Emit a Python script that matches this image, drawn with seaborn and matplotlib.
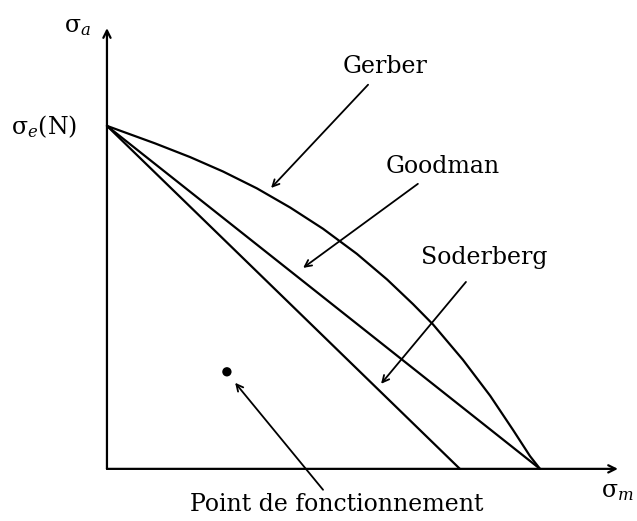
import matplotlib
matplotlib.use("Agg")
import matplotlib.pyplot as plt
import seaborn as sns

# values (sigma_m / sigma_u, sigma_a / sigma_e)
goodman_m = [0.0, 1.0]
goodman_a = [1.0, 0.0]
soderberg_m = [0.0, 0.815]
soderberg_a = [1.0, 0.0]
gerber_m = [0.0, 0.111, 0.192, 0.268, 0.346, 0.423, 0.499, 0.577, 0.647,
            0.707, 0.753, 0.822, 0.885, 0.938, 0.977, 1.0]
gerber_a = [1.0, 0.949, 0.909, 0.867, 0.818, 0.762, 0.700, 0.627, 0.552,
            0.480, 0.421, 0.318, 0.213, 0.113, 0.037, 0.0]
point_m = [0.277]
point_a = [0.283]

sns.set_theme(style="white")
plt.rcParams["font.family"] = ["DejaVu Serif"]
plt.rcParams["mathtext.fontset"] = "dejavuserif"
plt.rcParams["text.color"] = "black"

fig = plt.figure(figsize=(6.37, 5.21), dpi=100)
ax = fig.add_axes([0, 0, 1, 1])
ax.set_xlim(-0.247, 1.224)
ax.set_ylim(-0.152, 1.367)
ax.axis("off")

lw = 1.6
sns.lineplot(x=goodman_m, y=goodman_a, color="black", lw=lw, ax=ax)
sns.lineplot(x=soderberg_m, y=soderberg_a, color="black", lw=lw, ax=ax)
sns.lineplot(x=gerber_m, y=gerber_a, color="black", lw=lw, ax=ax, sort=False,
             solid_joinstyle="round")
sns.scatterplot(x=point_m, y=point_a, color="black", s=45, edgecolor="none", ax=ax)

# axes with arrows
axis_arrow = dict(arrowstyle="->", lw=1.6, color="black", mutation_scale=13, shrinkA=0, shrinkB=0)
ax.annotate("", xy=(1.18, 0), xytext=(0, 0), arrowprops=axis_arrow)
ax.annotate("", xy=(0, 1.285), xytext=(0, 0), arrowprops=axis_arrow)

fs = 17
ax.text(-0.069, 1.289, "σ$_a$", fontsize=fs, ha="center", va="center")
ax.text(-0.069, 0.997, "σ$_e$(N)", fontsize=fs, ha="right", va="center")
ax.text(1.178, -0.067, "σ$_m$", fontsize=fs, ha="center", va="center")

lab_arrow = dict(arrowstyle="->", lw=1.3, color="black", mutation_scale=12, shrinkA=0, shrinkB=0)
ax.text(0.642, 1.172, "Gerber", fontsize=fs, ha="center", va="center")
ax.annotate("", xy=(0.379, 0.819), xytext=(0.603, 1.120), arrowprops=lab_arrow)
ax.text(0.776, 0.883, "Goodman", fontsize=fs, ha="center", va="center")
ax.annotate("", xy=(0.453, 0.586), xytext=(0.718, 0.831), arrowprops=lab_arrow)
ax.text(0.871, 0.615, "Soderberg", fontsize=fs, ha="center", va="center")
ax.annotate("", xy=(0.633, 0.248), xytext=(0.829, 0.545), arrowprops=lab_arrow)
ax.text(0.531, -0.105, "Point de fonctionnement", fontsize=fs, ha="center", va="center")
ax.annotate("", xy=(0.296, 0.251), xytext=(0.499, -0.061), arrowprops=lab_arrow)

fig.savefig("out.png", dpi=100)
